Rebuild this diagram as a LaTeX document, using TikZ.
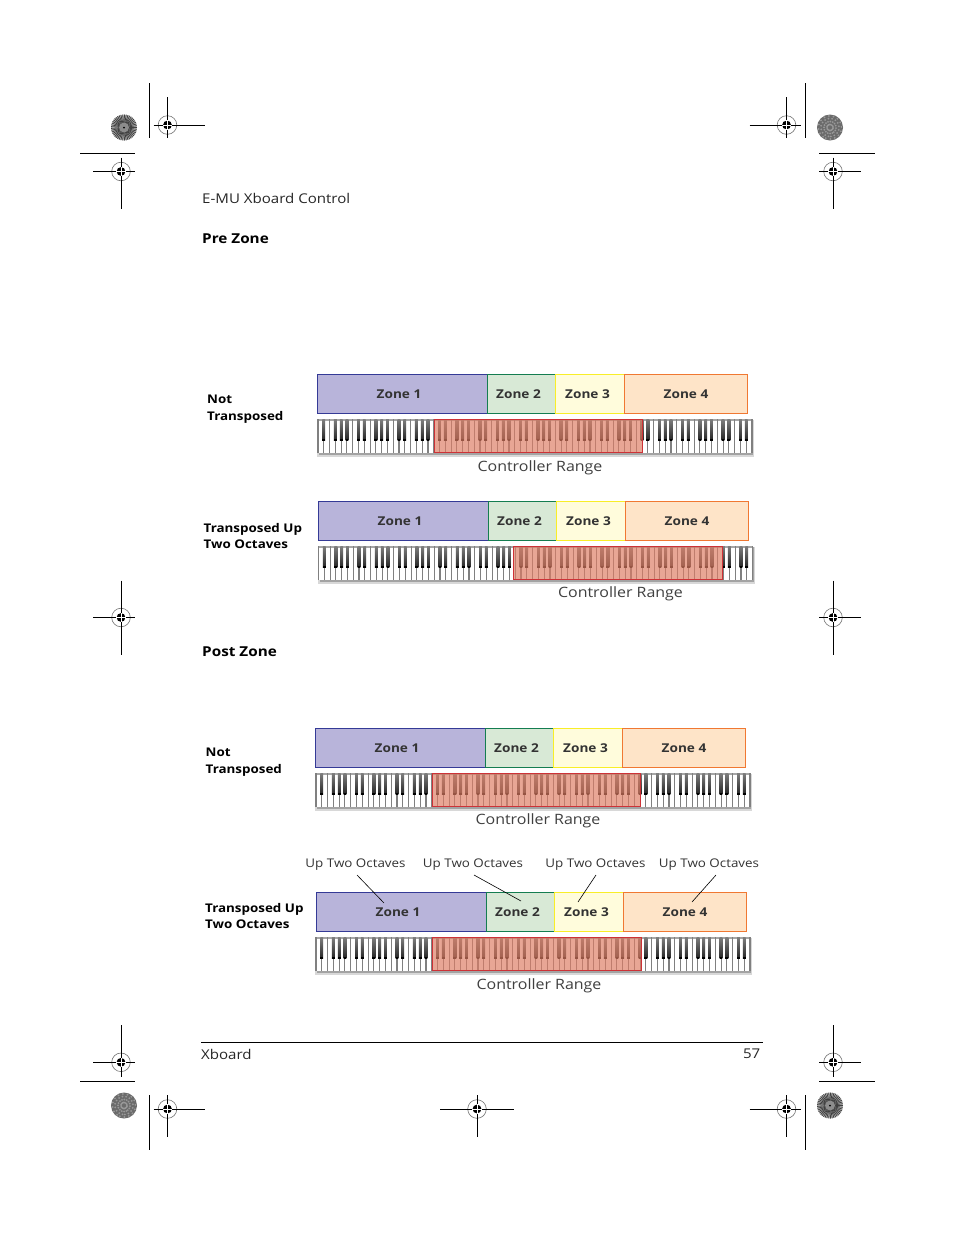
\documentclass[tikz,border=0pt]{standalone}
\usepackage{fontspec}
\setmainfont[FakeStretch=1.12]{Open Sans}
\usetikzlibrary{positioning,calc}

\definecolor{zoneA}{RGB}{184,180,218}
\definecolor{zoneB}{RGB}{216,233,214}
\definecolor{zoneC}{RGB}{255,252,220}
\definecolor{zoneD}{RGB}{254,228,200}
\definecolor{edgeA}{RGB}{52,58,150}
\definecolor{edgeB}{RGB}{20,125,80}
\definecolor{edgeC}{RGB}{248,238,40}
\definecolor{edgeD}{RGB}{240,120,50}
\definecolor{rangefill}{RGB}{222,125,100}
\definecolor{rangeedge}{RGB}{205,50,55}

\tikzset{
    x=1bp, y=-1bp,
    zone/.style={draw, line width=1bp, inner sep=0pt, outer sep=0pt, minimum height=39bp,
        font=\fontsize{12.2}{14}\selectfont\bfseries, text=black!80},
    rangebox/.style={draw=rangeedge, fill=rangefill, fill opacity=0.68, line width=0.9bp,
        inner sep=0pt, outer sep=0pt, minimum height=33bp},
    rangelabel/.style={font=\fontsize{14.3}{16}\selectfont, text=black!75},
    sidelabel/.style={align=left, anchor=west, inner sep=0pt, font=\fontsize{12}{17}\selectfont\bfseries},
    uplabel/.style={font=\fontsize{12}{14}\selectfont, text=black!80},
    heading/.style={anchor=west, inner sep=0pt, font=\fontsize{13.7}{16}\selectfont\bfseries},
    pagetext/.style={anchor=west, inner sep=0pt, font=\fontsize{13.5}{16}\selectfont, text=black!85},
    crop/.style={line width=0.9bp}
}

% row of four zones, left edge at #2, top at #3
\newcommand{\zonerow}[3]{
    \node[zone, anchor=north west, minimum width=170bp, fill=zoneA, draw=edgeA] (#1a) at (#2,#3) {\hspace*{-7bp}Zone 1};
    \node[zone, right=0pt of #1a, minimum width=68bp, fill=zoneB, draw=edgeB] (#1b) {\hspace*{-6bp}Zone 2};
    \node[zone, right=0pt of #1b, minimum width=69bp, fill=zoneC, draw=edgeC] (#1c) {\hspace*{-5bp}Zone 3};
    \node[zone, right=0pt of #1c, minimum width=123bp, fill=zoneD, draw=edgeD] {Zone 4};
}

% 75 white keys and the black keys over them
\newcommand{\keybed}[3]{
    \fill[black!25, opacity=0.6] (#2-1,#3+1) rectangle ++(437,37);
    \fill[black!50, opacity=0.6] (#2+1,#3+1) rectangle ++(434,35);
    \fill[white] (#2,#3) rectangle ++(434,33.5);
    \fill[black!35] (#2,#3) rectangle ++(434,1.5);
    \foreach \k in {0,...,75}
        \draw[black!50, line width=1.1bp] (#2+\k*5.787,#3) -- ++(0,33.5);
    \foreach \k in {1,...,74} {
        \pgfmathtruncatemacro{\note}{mod(\k,7)}
        \ifnum\note=2 \else \ifnum\note=6 \else
            \shade[top color=black!50, bottom color=black!85] (#2+\k*5.787-1.4,#3) rectangle ++(2.8,21);
            \fill[black] (#2+\k*5.787-1.4,#3+20) rectangle ++(2.8,2);
        \fi \fi
    }
    \coordinate (#1) at (#2,#3);
}

% registration mark with arm lengths left, right, up, down
\newcommand{\regmark}[7]{
    \coordinate (#1) at (#2,#3);
    \draw[black!55, line width=0.6bp] (#1) circle (9.3);
    \draw[crop] (#2-#4,#3) -- (#2+#5,#3) (#2,#3-#6) -- (#2,#3+#7);
    \fill (#1) circle (4.4);
    \draw[white, line width=0.8bp] ($(#1)+(-4.6,0)$) -- ++(9.2,0) ($(#1)+(0,-4.6)$) -- ++(0,9.2);
}

% round test target, spokes
\newcommand{\target}[2]{
    \fill[black!25] (#1,#2) circle (13);
    \foreach \a in {0,8,...,352}
        \draw[black!75, line width=0.8bp] (#1,#2) -- ++(\a:13);
    \fill[black!45] (#1,#2) circle (5);
    \fill[black] (#1,#2) circle (1);
}
% round test target, grey grain
\newcommand{\grain}[2]{
    \fill[black!58] (#1,#2) circle (13);
    \foreach \a in {0,23,...,359}
        \foreach \r in {3,6,9,11.5}
            \fill[black!40] (#1,#2) ++(\a+11*\r:\r) circle (1);
}

\begin{document}
\begin{tikzpicture}
\useasboundingbox (0,0) rectangle (954,1235);
\fill[white] (0,0) rectangle (954,1235);

% crop marks
\regmark{topa}{167.5}{125}{14}{37}{28}{13}
\regmark{topb}{121}{171.5}{28}{14}{14}{37}
\regmark{topc}{786.5}{125}{37}{14}{28}{13}
\regmark{topd}{833}{171.5}{14}{28}{14}{37}
\regmark{mida}{121}{617.5}{28}{14}{37}{37}
\regmark{midb}{833}{617.5}{14}{28}{37}{37}
\regmark{bota}{121}{1062.3}{28}{14}{37}{15}
\regmark{botb}{167.5}{1109}{14}{37}{14}{28}
\regmark{botc}{477}{1109}{37}{37}{14}{28}
\regmark{botd}{786.5}{1109}{37}{14}{14}{28}
\regmark{bote}{833}{1062.3}{14}{28}{37}{15}
\draw[crop] (149.5,83) -- (149.5,138);
\draw[crop] (805,83) -- (805,138);
\draw[crop] (80,153) -- (135,153);
\draw[crop] (819,153) -- (875,153);
\draw[crop] (80,1081.5) -- (135,1081.5);
\draw[crop] (819,1081.5) -- (875,1081.5);
\draw[crop] (149.5,1095) -- (149.5,1150);
\draw[crop] (805,1095) -- (805,1150);
\target{124}{127.5}
\grain{830}{127.5}
\grain{124}{1105.5}
\target{830}{1105.5}

% page text
\node[pagetext] (title) at (202,198.5) {E-MU Xboard Control};
\node[heading] (prezone) at (202,238.5) {Pre Zone};
\node[heading] (postzone) at (202,651.5) {Post Zone};
\draw[line width=1.7bp] (201,1042.5) -- (763,1042.5);
\node[pagetext] (foot) at (201,1054) {Xboard};
\node[pagetext, anchor=east] (pagenum) at (760.5,1054) {57};

% pre zone, not transposed
\zonerow{ra}{317.5}{374.5}
\keybed{ka}{318}{419}
\node[rangebox, anchor=north west, minimum width=208bp] (rga) at (434,419) {};
\node[rangelabel] (lra) at (540,467.5) {Controller Range};
\node[sidelabel] (sa) at (207,409.5) {Not\\Transposed};

% pre zone, transposed
\zonerow{rb}{318.5}{501.5}
\keybed{kb}{318.5}{546}
\node[rangebox, anchor=north west, minimum width=209bp] (rgb) at (513,546) {};
\node[rangelabel] (lrb) at (620.5,594) {Controller Range};
\node[sidelabel] (sb) at (203.5,536) {Transposed Up\\Two Octaves};

% post zone, not transposed
\zonerow{rc}{315.5}{728.5}
\keybed{kc}{316}{773}
\node[rangebox, anchor=north west, minimum width=208bp] (rgc) at (432,773) {};
\node[rangelabel] (lrc) at (538,820.5) {Controller Range};
\node[sidelabel] (sc) at (205.5,762.5) {Not\\Transposed};

% post zone, transposed
\zonerow{rd}{316.5}{892.5}
\keybed{kd}{316}{937}
\node[rangebox, anchor=north west, minimum width=209bp] (rgd) at (432,937) {};
\node[rangelabel] (lrd) at (539,985.5) {Controller Range};
\node[sidelabel] (sd) at (205,916) {Transposed Up\\Two Octaves};

% up two octaves callouts
\node[uplabel] (upa) at (355.5,865) {Up Two Octaves};
\node[uplabel] (upb) at (473,865) {Up Two Octaves};
\node[uplabel] (upc) at (595.5,865) {Up Two Octaves};
\node[uplabel] (upd) at (709,865) {Up Two Octaves};
\coordinate (enda) at (384,903);
\coordinate (endb) at (521,901);
\coordinate (endc) at (578,902);
\coordinate (endd) at (692,902);
\draw[line width=0.6bp] (357,875) -- (enda);
\draw[line width=0.6bp] (474,875) -- (endb);
\draw[line width=0.6bp] (596,875) -- (endc);
\draw[line width=0.6bp] (716,875) -- (endd);
\end{tikzpicture}
\end{document}
